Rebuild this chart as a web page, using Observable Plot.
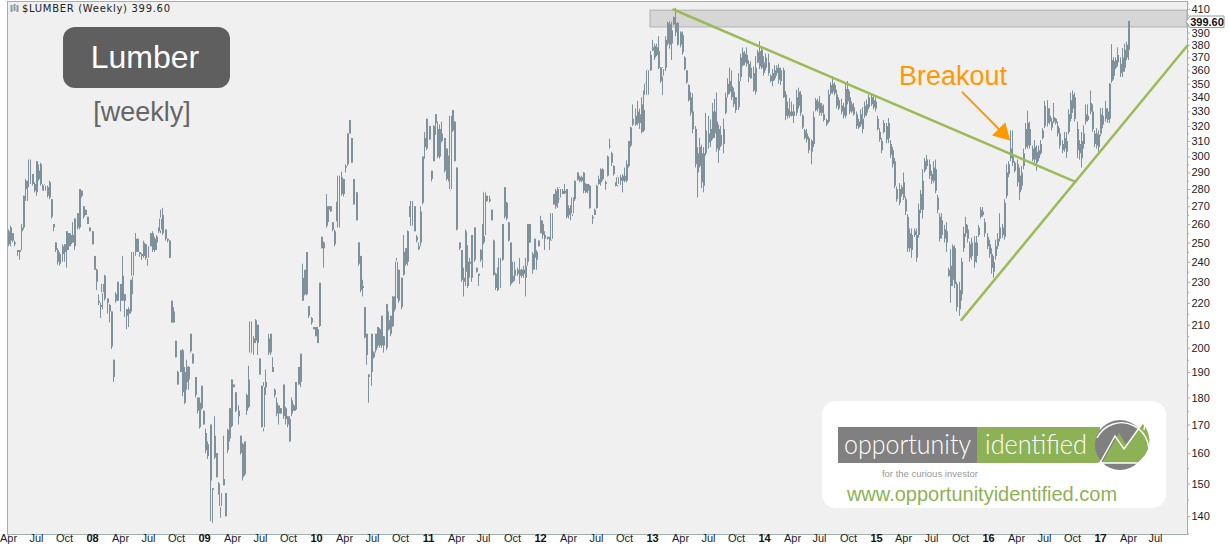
<!DOCTYPE html>
<html><head><meta charset="utf-8">
<script src="https://cdn.jsdelivr.net/npm/d3@7"></script>
<script src="https://cdn.jsdelivr.net/npm/@observablehq/plot@0.6"></script>
<style>html,body{margin:0;padding:0;background:#fff}svg{display:block}</style>
</head><body><div id="chart"></div>
<script>
// Weekly bars: [high, low, open, close]. open < close draws hollow.
const bars2007=[[257,248,256,249],[259,248,258,251],[255,250,255,251],[251,248,250,249],[246,243,246,245],[246,241,246,245],[260,246,258,256],[276,257,276,258],[286,273,285,280],[285,273,284,281],[298,283,283,298],[289,282,289,283],[284,278,283,279],[297,276,297,278],[295,285,291,286],[296,282,295,283],[283,279,282,280],[283,279,279,282],[282,275,281,276],[285,274,284,275],[274,263,274,264],[260,256,260,258],[250,245,250,246],[247,238.5,246,240],[245,238,244,239],[249,240,248,244],[249,240,249,245],[256,237,256,246],[255,246,255,248],[255,248,254,249],[261,250,254,250],[263,246,263,248],[266,257,266,258],[280,257,280,258],[279,275,279,276],[270,263,270,264],[268,265,268,265],[264,260,264,260],[258,256,258,256],[256,249,256,249]];
const bars2008=[[243,236,243,236],[236.5,226,236,230],[224,219,221,220],[220,213,219,218],[229,217,225,229],[233.5,221,233,222],[222,215,222,220],[219.5,211,219,216],[216,199.5,216,200.5],[195,186,195,188],[225,220,224,221],[230,221,230,221],[229,216,229,221],[243,221,233,221],[224,213.5,224,221],[217,208,217,214],[218,209,217,215],[231,215,231,216],[245,224,233,245],[255,243,252,245],[252,245,252,245],[245,242.5,245,244],[244.5,241,244,243],[251,242,250,243],[249,241,249,242],[248,238,242,248],[255,248,255,248],[256,245,255,246],[253,245,252,246],[254,246,253,250],[258,255,258,256],[268,255,257,263],[269,254,265,255],[257,251,257,252],[252,250,252,251],[251,242,251,242],[221,211,221,211],[218,211,216,211],[203,196,203,196],[190.5,185,190,185],[199,190,199,190],[199.5,180.5,199,182],[192,177.5,190,178],[195,183,192,186],[192.5,183,192,187],[206,198,206,198.5],[197.5,193.5,197.5,193.5],[188,180,188,181],[180,174,180,175],[180,168.5,178,169],[184.5,175.5,184.5,176],[175,170,175,170]];
const bars2009=[[168.5,160,167,161],[164,158,163,159],[170,138.5,170,151],[148.5,138,148.5,148],[173,158,166,158.5],[160,152,160,152],[150.5,146.5,150,147],[147,139.5,143,147],[166,149.5,151.5,149.5],[147,140,147,140],[168.5,160,168,161],[176,164,176,165],[187,169,187,169.5],[185,184,185,184],[182,174.5,182,175],[177,170,175,173],[166,159.5,166,160],[163.5,151,163,152],[164,152.5,164,153],[181.5,173.5,181,175],[192.5,176,187,176.5],[211.5,197.5,198,211.5],[205,197,204,202],[212.5,202,212,203],[210,197,210,202],[195.5,189,195.5,189],[184.5,169,184.5,169.5],[186,167.5,169,184],[191,181,186,184],[206,197,204,198],[206,197,206,198],[196,190,192,190],[183.5,180,183,181],[180,173,178,174],[177,170,177,174],[176,174,176,174],[185,172,185,173],[176.5,170,176,172],[173,169,173,170],[173,164,172,164],[180,173,179,174],[177.5,175,177,175],[186,175,186,175.5],[192,185,192,185],[197.5,184,197.5,186],[239,221,232,221],[236,223.5,236,224],[245,223.5,245,224],[218.5,213,218.5,214],[213.5,210,213,211],[209,208,209,208],[209,205,209,205],[209,202,208,202],[229.5,209,229.5,209.5]];
const bars2010=[[253,247,253,247],[250.5,237,250,247],[277,258,270,259],[270,261,270,268],[270,267,270,267],[261,256,261,257],[257,248,256,249],[272.5,261.5,272,262],[288,258,258,288],[290.5,276,287,277],[286,275.5,286,277],[295,290,294,293],[315,294,315,295],[324,315,324,315],[312,296,312,296],[286,271,286,271],[278,262,278,262],[250,238,250,239],[243,225,243,226],[231,223,228,227],[218,204,218,204.5],[206,193,206,197],[189,178,189,188],[206,184.5,206,190],[198.5,195.5,198,196],[206,198,206,199],[209,200,209,201],[208.5,200,208,201],[214,200,214,201],[205,198,205,201],[219.5,199,219.5,200],[216,207.5,212,208],[214,205,214,206],[223,209,223,209.5],[223,216,223,217],[242,222,222,240],[236,220,236,221],[232,217,232,218],[254,233,245,233.5],[247,238,247,239],[256.5,238,256,240],[270,264,270,264],[273,259,259,273],[270,256,270,256],[254,250,253,251],[250,246,248,246.5],[270,248,267,250],[300,271,300,272]];
const bars2011=[[316,298.5,312,306],[325,304,325,305],[320,311,320,311],[291,284.5,291,286],[320.5,297,320,297],[328,314,328,322],[323,299,318,300],[321,298.5,318,300],[323,309,315,310],[312,290,312,291],[305,285,305,286],[300.5,284.5,300,286],[327,279,280,327],[331,316,331,317],[323,297,323,297],[293,256.5,293,257],[250,246,250,247],[246,230,246,231],[237,223,232,230],[257,228,256,235],[248.5,227,240,228],[242,232,240,239],[254,230,254,232],[258,240,258,241],[237,234.5,237,235],[234,228,234,233],[246.5,240,246,241],[260,237,260,249],[278.5,250,254,278],[276,272.5,276,273],[276,272,274,273],[268,262,268,262],[251.5,233,251,233.5],[234.5,226,234,227],[237,225.5,237,226],[242,226.5,227,242],[260,240.5,260,241],[281,263,281,264],[272.5,262,272,263],[261,250.5,261,251],[250,228,250,229],[240,229.5,233,230],[240,230.5,236,233],[237,233,236,234],[242,229,236,233],[236.5,232,236,233],[238,232,236,234],[242,223,238,232]];
const bars2012=[[260,238,260,240],[260,250,260,250],[245,234,244,236],[252,236,252,242],[246,236,245,241],[251,248,251,248],[264.5,255,262,255],[262,252,260,254],[256,246,254,252],[253,251.5,253,252],[253,246,252.5,251],[266,251,252,266],[277,271,277,271],[280,268.5,279,270],[281,269,280,272],[281,274,275,280],[280,277,279,277],[283,277,279,277.5],[280,263,280,264],[270.5,263,269,265],[270.5,262,270,266],[275.5,264.5,266,275],[285,273,285,274],[290,285,290,285.5],[288,284,287,285],[288,284,287,285],[290,277.5,290,279],[283.5,277.5,283,278],[283,277.5,283,279],[282.5,268.5,282,269],[265,260,264,263],[268.5,265,268,265],[282.5,268.5,282,269],[288,282.5,286,283],[292.5,282,292,284],[292.5,285,292,286],[285,279.5,284,283],[300.5,287.5,300,288],[311.5,305,306.5,306],[303,294,302,296],[294.5,288,294,289],[284,281.5,283,282],[288,281.5,283,287],[288.5,282.5,287,285],[289,278,288,285],[293,284,288,285],[297.5,284,295,285],[310,293,310,294],[319.5,306,319,307],[335,320,325,321],[332,320,327,321],[337.5,320.5,330,322],[332,318,328,322],[340,315,335,316]];
const bars2013=[[345,316,331,317],[351,341.5,342,350],[361,341.5,342,360],[375,359.5,372,360],[384,375,378,375.5],[381,368,379,370],[381,371,378,372],[387,361,375,362],[362.5,350.5,362,352],[362.5,341.5,356,361],[387,359.5,384,362],[399,379.5,398,381],[399.5,377,397,380],[399,368,392,381],[403.5,396,403,397],[411,387,398,390],[399,379.5,398,380],[391,378,390,380],[391,372,388,374],[371,360,370,361],[360,350,360,351],[349.5,337,349,338],[344,327,340,329],[343,315,330,318],[320,293,318,295],[306,275,302,290],[312,293,306,294],[307.5,280.5,302,284],[306,278,302,282],[329,300.5,317,302],[327,305,315,309],[324.5,306,318,310],[336,311,330,312],[339,312,330,315],[343.5,303,323,305],[321,296,318,304],[320,306,314,307],[325,302,318,308],[343.5,328,340,329],[354,340,350,342],[362,342.5,352,344],[360,338,348,340],[347,333,344,335],[340,329,340,331],[358,331,352,333],[373,352,370,355]];
const bars2014=[[378,363,374,364],[375,364,373,366],[378,363,372,365],[368,351,365,355],[367,353.5,362,354],[363,344,358,345],[371,342,362,344],[376,365.5,374,366],[383,361,375,363],[378,361,376,362],[371,356,366,358],[373,360,370,362],[373,356,366,358],[357,351,356,352],[361,348,358,352],[364,352.5,360,354],[364,356,362,358],[365,350,362,353],[362,349,360,352],[362,339.5,360,340],[344.5,324,342,327],[337,325,332,327],[339.5,325.5,330,327],[337,326.5,330,327],[335,322,330,327],[345.5,327,340,329],[347,332,344,334],[344.5,327,342,329],[328,318,327,319],[318,311,317,312],[318,309,315,311],[313,302,312,304],[311,295,310,303],[330,306,326,308],[339.5,330,338,331],[339,330,337,332],[341,327,336,329],[336,327,334,329],[335,323,328,324],[325,320,324,321],[345.5,322,342,323],[351,341.5,349,343],[355.5,342.5,350,344],[351,341.5,349,343],[345.5,332,342,334],[340,331,338,332],[339,328,334,330],[336,325,333,327],[350,325.5,346,327],[352,335,346,337],[344.5,328,340,330],[337,329,335,330],[336,327,333,328],[330,318,328,320],[325,318,323,319]];
const bars2015=[[331.5,319.5,328,321],[333,315,325,318],[337,325.5,334,327],[338.5,327,335,329],[342,331.5,340,333],[342,334,340,335],[341,331.5,338,333],[340,330,337,332],[327,317,325,318],[318.5,309.5,316,311],[312,302,310,304],[324,315,322,316],[322,308.5,320,311],[325.5,308.5,322,312],[310.5,299,308,301],[306,293,304,295],[299,280.5,297,282],[281.5,272.5,280,274],[283.5,270.5,280,272],[282.5,275.5,281,277],[290,273.5,284,275],[275.5,265,274,267],[265.5,245,264,247],[257.5,245,255,247],[257.5,242,254,246],[257.5,253,256,254],[257.5,240,254,242],[271.5,252.5,268,254],[279.5,266,277,268],[292,263,285,268],[299,290,297,291],[301,292,298,294],[298,286,295,288],[291,283,289,285],[297,283.5,293,285],[298,277.5,292,279],[276.5,266,275,268],[266,250.5,264,252],[266,252,262,254],[259.5,250,257,252],[261,245,256,250],[237,232.5,236,233],[246.5,220,238,228],[249,228,248,231],[248.5,227,247,229],[230,216,229,218],[230,214,226,217],[242,221,240,224],[258.5,245,255,247],[264,253,260,255],[259.5,250,257,252],[250.5,240,249,242],[252.5,241,250,243],[253.5,237,250,240]];
const bars2016=[[253.5,239.5,250,243],[259.5,253,258,254],[269.5,263,268,264],[269.5,264,267,265],[263,253,261,255],[255,246.5,253,248],[251.5,242,249,244],[247,234,244,237],[243,232,240,235],[251.5,241,248,243],[255,246.5,252,248],[266,250.5,258,252],[260,252.5,258,254],[274,251.5,272,253],[295,274.5,290,276],[297,287,295,289],[317,297,305,299],[317,294,300,296],[297,290,296,291],[298,281.5,295,284],[293,273.5,288,278],[294,279.5,290,282],[305,292,302,294],[322,304.5,318,306],[330.5,305,322,307],[323,305,318,307],[307,297,305,298],[310.5,296,306,298],[307,291,303,296],[307,297,304,299],[310.5,301,308,302],[318.5,311,317,312],[337.5,318.5,334,320],[338,319.5,332,322],[332.5,321,327,323],[325.5,317,323,319],[336,322,326,323],[325.5,321,325,322],[323,313,320,315],[318.5,305,315,307],[310.5,302,308,304],[316,303,312,305],[316,299,310,303],[331.5,314.5,328,316],[343.5,323,338,325],[345,329,342,332],[343.5,323,340,325],[323,299,318,304],[310.5,298,308,302],[316,293,310,299],[320.5,305,315,308],[335,321,328,323],[335,323,327,324]];
const bars2017=[[345,328,336,330],[335,316,330,318],[317,306,315,308],[318.5,305,315,307],[317,303,314,306],[332.5,313,328,315],[332.5,318.5,327,321],[337.5,323,332,325],[332.5,322,330,324],[350.5,322,350,325],[380.5,350.5,368,352],[370,353,367,356],[370,361,368,362],[378,363,372,366],[370,355,365,358],[377.5,355,370,359],[381,359,376,362],[382.5,368,380,370],[399.6,368,399.6,376]];

const firstWeek = "2007-04-02";
const domainEnd = "2017-10-12";
const monthNames = ["Apr","Jul","Oct"];
const yTicks = [140,150,160,170,180,190,200,210,220,230,240,250,260,270,280,290,300,310,320,330,340,350,360,370,380,390,410];
const yMinorTicks = [135,145,155,165,175,185,195,205,215,225,235,245,255,265,275,285,295,305,315,325,335,345,355,365,375,385,395,405,415];

const trendDownDates = ["2013-03-11","2016-10-12"], trendDownPrices = [410,284.6];
const trendUpDates = ["2015-10-06","2017-10-12"], trendUpPrices = [212.4,379.9];
const zoneDates = ["2012-12-25",domainEnd], zonePrices = [394.7,409];
const arrowDates = ["2015-10-08","2016-02-17"], arrowPrices = [344,315.8];

const BAR = "#7F929C", BG = "#F0F0F0", GREEN = "#9BBB59", ORANGE = "#FF9900", EDGE = "#9DB0AB";
const FONT = "Liberation Sans, Arial, sans-serif";
const D = s => new Date(s + "T00:00:00Z");

const t0 = +D(firstWeek);
const bars = [...bars2007,...bars2008,...bars2009,...bars2010,...bars2011,...bars2012,...bars2013,...bars2014,...bars2015,...bars2016,...bars2017]
  .map((b,i)=>({date:new Date(t0+i*7*864e5),high:b[0],low:b[1],open:b[2],close:b[3]}));
const hollow = bars.filter(d=>d.close>d.open);
const filled = bars.filter(d=>d.close<=d.open);

const quarters = [];
for (let y=2007;y<=2017;y++) for (const m of [0,3,6,9]) {
  const d = new Date(Date.UTC(y,m,1));
  if (d>=D("2007-04-01") && d<=D("2017-07-02")) quarters.push(d);
}
const monthTicks = quarters.filter(d=>d.getUTCMonth()!==0);
const yearTicks = quarters.filter(d=>d.getUTCMonth()===0);
const line = (ds,ps)=>ds.map((d,i)=>({x:D(d),y:ps[i]}));

function overlay(){
  const g = d3.create("svg:g").attr("font-family",FONT);
  const box = (x,y,w,h,r,fill)=>g.append("rect").attr("x",x).attr("y",y).attr("width",w).attr("height",h).attr("rx",r).attr("fill",fill);
  const txt = (s,x,y,size,fill,anchor="middle",extra={})=>{const t=g.append("text").text(s).attr("x",x).attr("y",y).attr("font-size",size).attr("fill",fill).attr("text-anchor",anchor);for(const k in extra)t.attr(k,extra[k]);return t;};
  // chart title with its small bar icon
  g.append("path").attr("d","M11.5 5V12M14.5 4V11M17.5 5V12").attr("stroke","#8a9aa2").attr("stroke-width",2).attr("fill","none");
  txt("$LUMBER (Weekly) 399.60",22,12,10,"#222","start",{"font-family":"DejaVu Sans, sans-serif",textLength:148});
  // label
  box(63,27,167,61,12,"#5F5F5F");
  txt("Lumber",145,68,32,"#fff");
  txt("[weekly]",142,121,27,"#666");
  txt("Breakout",953,85,27,ORANGE);
  // logo
  box(822,401,344,107,14,"#fff");
  box(838,427,139,36,0,"#808080");
  box(977,427,123,36,0,"#8DB255");
  const light = {"font-family":"Lato, Liberation Sans, sans-serif","font-weight":300,lengthAdjust:"spacingAndGlyphs"};
  txt("opportunity",844,454,28,"#fff","start",{...light,textLength:127});
  txt("identified",985,454,28,"#fff","start",{...light,textLength:102});
  g.append("circle").attr("cx",1120).attr("cy",445).attr("r",25).attr("fill","#808080");
  g.append("path").attr("d","M1102 463 L1119 433 L1127 446 L1142 423 A25 25 0 0 1 1136 463 Z").attr("fill","#8DB255");
  g.append("path").attr("d","M1100 463 L1115 436 L1124 449 L1144 421 M1136 418 L1146 418 L1144 430 M1098 463 L1138 463 M1097 438 A27 27 0 0 1 1146 462").attr("fill","none").attr("stroke","#fff").attr("stroke-width",1.4);
  txt("for the curious investor",930,477,9.5,"#999");
  txt("www.opportunityidentified.com",982,501,20,"#8DB255");
  // last price flag
  g.append("path").attr("d","M1186 21.5 L1190 16 L1224 16 L1224 27.5 L1190 27.5 Z").attr("fill","#fff").attr("stroke","#9a9a9a");
  txt("399.60",1207,25.5,11,"#111","middle",{"font-weight":"bold"});
  return g.node();
}

const plot = Plot.plot({
  width:1229, height:545,
  marginLeft:7, marginRight:42, marginTop:1, marginBottom:11,
  style:{background:"#fff",fontFamily:FONT,overflow:"visible"},
  x:{type:"utc",domain:[D("2007-03-30"),D(domainEnd)],round:true},
  y:{type:"log",domain:[134.8,417]},
  marks:[
    Plot.frame({fill:BG,stroke:EDGE}),
    Plot.rect([0],{x1:()=>D(zoneDates[0]),x2:()=>D(zoneDates[1]),y1:()=>zonePrices[0],y2:()=>zonePrices[1],fill:"#D6D6D6",stroke:"#B0B0B0",strokeWidth:1}),
    Plot.ruleX(bars,{x:"date",y1:"low",y2:"high",stroke:BAR,strokeWidth:1}),
    Plot.ruleX(filled,{x:"date",y1:"open",y2:"close",stroke:BAR,strokeWidth:2,dx:0.5}),
    Plot.ruleX(hollow,{x:"date",y1:"open",y2:"close",stroke:BAR,strokeWidth:3}),
    Plot.ruleX(hollow,{x:"date",y1:"open",y2:"close",stroke:BG,strokeWidth:1,insetTop:1,insetBottom:1}),
    Plot.line(line(trendDownDates,trendDownPrices),{x:"x",y:"y",stroke:GREEN,strokeWidth:2.5}),
    Plot.line(line(trendUpDates,trendUpPrices),{x:"x",y:"y",stroke:GREEN,strokeWidth:2.5}),
    Plot.line(line(arrowDates,arrowPrices),{x:"x",y:"y",stroke:ORANGE,strokeWidth:2}),
    Plot.dot(line(arrowDates,arrowPrices).slice(1),{x:"x",y:"y",symbol:"triangle",r:7,fill:ORANGE,stroke:"none",rotate:135}),
    Plot.axisX({ticks:monthTicks,tickFormat:d=>monthNames[[3,6,9].indexOf(d.getUTCMonth())],tickSize:2,tickPadding:-2,fontSize:11,label:null,stroke:EDGE,color:"#222",anchor:"bottom"}),
    Plot.axisX({ticks:yearTicks,tickFormat:d=>String(d.getUTCFullYear()).slice(2),tickSize:2,tickPadding:-2,fontSize:11,fontWeight:"bold",label:null,stroke:EDGE,color:"#111",anchor:"bottom"}),
    Plot.axisY({anchor:"right",ticks:yMinorTicks,tickFormat:()=>"",tickSize:1,label:null,stroke:EDGE}),
    Plot.axisY({anchor:"right",ticks:yTicks,tickFormat:d=>d,tickSize:2,tickPadding:2,fontSize:11,label:null,stroke:EDGE,color:"#222"}),
    overlay
  ]
});
document.getElementById("chart").append(plot);
</script></body></html>
